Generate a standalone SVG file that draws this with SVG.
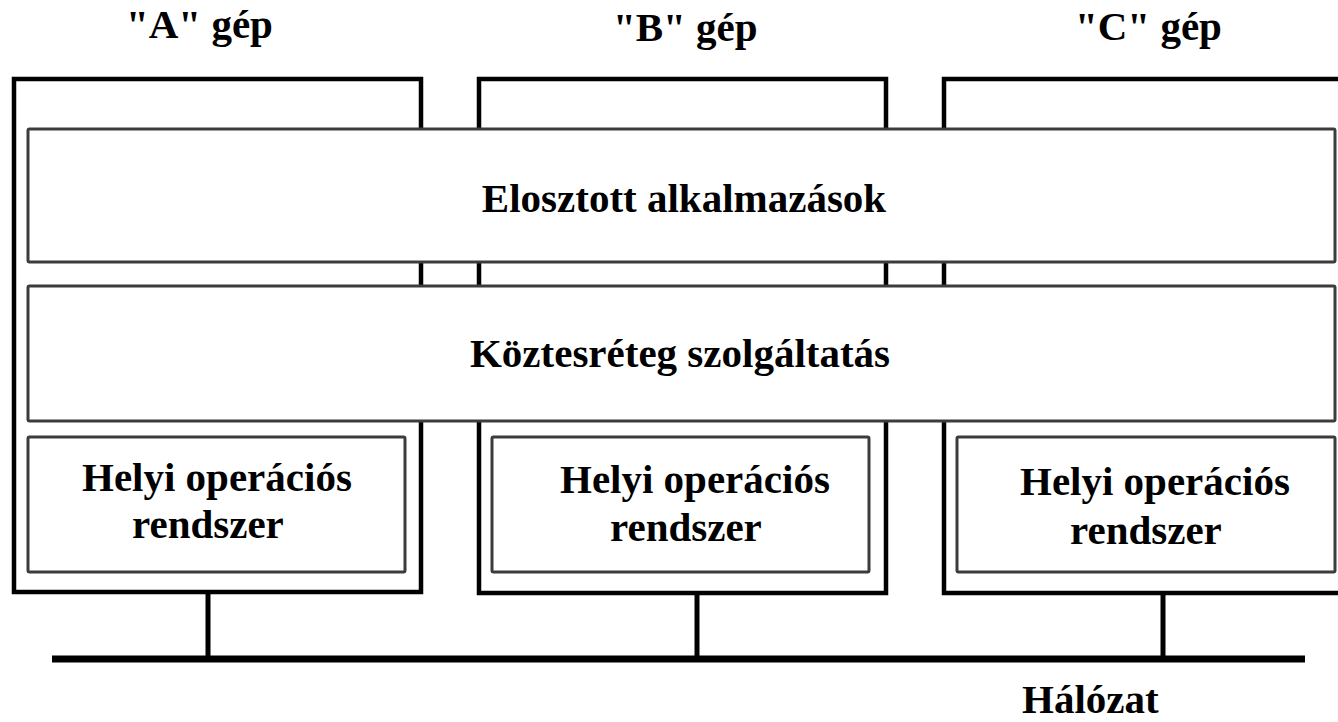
<svg xmlns="http://www.w3.org/2000/svg" width="1338" height="722" viewBox="0 0 1338 722">
  <style>
    .machine { fill: #ffffff; stroke: #000000; stroke-width: 4.5; }
    .layer { fill: #ffffff; stroke: #3c3c3c; stroke-width: 3; }
    .label { font-family: "Liberation Serif", "Times New Roman", serif; font-weight: bold; font-size: 41px; fill: #000000; }
    .wire { stroke: #000000; fill: none; }
  </style>
  <rect width="1338" height="722" fill="#ffffff"/>

  <!-- machine titles -->
  <g id="titles">
    <text class="label" x="126" y="38">"A" gép</text>
    <text class="label" x="613" y="41">"B" gép</text>
    <text class="label" x="1075" y="40">"C" gép</text>
  </g>

  <!-- machine frames -->
  <g id="machine-a"><rect class="machine" x="14" y="79" width="407" height="513"/></g>
  <g id="machine-b"><rect class="machine" x="479" y="79" width="407" height="514"/></g>
  <g id="machine-c"><rect class="machine" x="944" y="79" width="420" height="514"/></g>

  <!-- shared layers spanning all machines -->
  <g id="distributed-apps">
    <rect class="layer" x="28" y="129" width="1307" height="133" rx="1.5"/>
    <text class="label" x="684" y="212" text-anchor="middle">Elosztott alkalmazások</text>
  </g>
  <g id="middleware">
    <rect class="layer" x="28" y="286" width="1307" height="135" rx="1.5"/>
    <text class="label" x="680" y="367" text-anchor="middle">Köztesréteg szolgáltatás</text>
  </g>

  <!-- local operating systems -->
  <g id="os-a">
    <rect class="layer" x="28" y="437" width="377" height="135" rx="1.5"/>
    <text class="label" x="82" y="491">Helyi operációs</text>
    <text class="label" x="132" y="538">rendszer</text>
  </g>
  <g id="os-b">
    <rect class="layer" x="492" y="437" width="377" height="135" rx="1.5"/>
    <text class="label" x="560" y="493">Helyi operációs</text>
    <text class="label" x="610" y="541">rendszer</text>
  </g>
  <g id="os-c">
    <rect class="layer" x="957" y="437" width="378" height="135" rx="1.5"/>
    <text class="label" x="1020" y="495">Helyi operációs</text>
    <text class="label" x="1070" y="544">rendszer</text>
  </g>

  <!-- network bus and machine drops -->
  <g id="connectors">
    <line class="wire" x1="52" y1="659" x2="1305" y2="659" stroke-width="7"/>
    <line class="wire" x1="208" y1="592" x2="208" y2="659" stroke-width="5"/>
    <line class="wire" x1="697" y1="593" x2="697" y2="659" stroke-width="5"/>
    <line class="wire" x1="1163" y1="593" x2="1163" y2="659" stroke-width="5"/>
  </g>

  <g id="network-label">
    <text class="label" x="1022" y="713">Hálózat</text>
  </g>
</svg>
